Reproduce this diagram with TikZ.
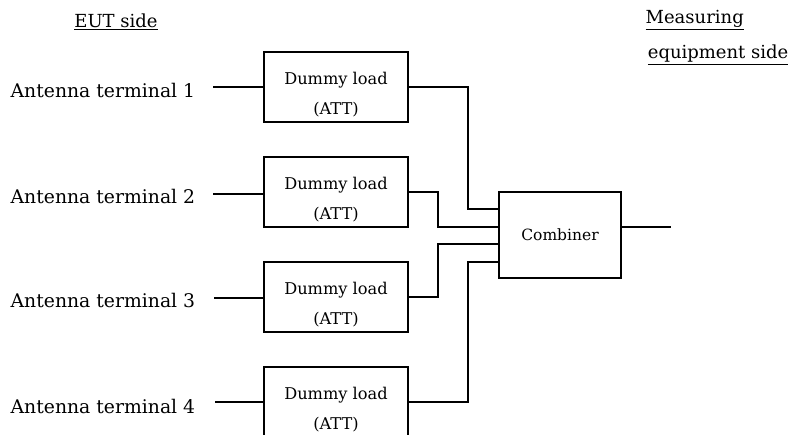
\documentclass[tikz,border=0pt]{standalone}
\usepackage{fontspec}
\setmainfont{DejaVu Serif}
\begin{document}
\begin{tikzpicture}[x=1pt,y=-1pt,line width=1.3pt,
  box/.style={draw,inner sep=0pt,minimum width=144pt,minimum height=70pt},
  lbl/.style={inner sep=0pt,font=\fontsize{18.8}{22}\selectfont},
  hdr/.style={inner sep=0pt,font=\fontsize{18}{22}\selectfont},
  small/.style={inner sep=0pt,font=\fontsize{16.2}{19}\selectfont}]
\useasboundingbox (0,0) rectangle (792,434);
% terminals
\node[lbl,anchor=west] (t1) at (10,90) {Antenna terminal 1};
\node[lbl,anchor=west] (t2) at (10,196) {Antenna terminal 2};
\node[lbl,anchor=west] (t3) at (10,300) {Antenna terminal 3};
\node[lbl,anchor=west] (t4) at (10,406) {Antenna terminal 4};
% headers
\node[hdr] (h1) at (116,22) {\underline{EUT side}};
\node[hdr,anchor=west] (h2) at (645,20) {\underline{Measuring}};
\node[hdr,anchor=east] (h3) at (789,55) {\underline{equipment side}};
% dummy loads
\foreach \i/\yt in {1/52,2/157,3/262,4/367}{
  \node[box] (d\i) at (336,\yt+35) {};
  \node[small] (dl\i) at (336,\yt+28) {Dummy load};
  \node[small] (da\i) at (336,\yt+58) {(ATT)};
}
\coordinate (a1) at (213,87); \coordinate (a2) at (213,194);
\coordinate (a3) at (214,298); \coordinate (a4) at (215,402);
% combiner
\node[box,minimum width=122pt,minimum height=86pt,font=\fontsize{15.5}{18}\selectfont] (comb) at (560,235) {Combiner};
\coordinate (out) at (671,227);
\draw (a1) -- (d1.west |- a1);
\draw (a2) -- (d2.west |- a2);
\draw (a3) -- (d3.west |- a3);
\draw (a4) -- (d4.west |- a4);
\draw (d1.east |- 0,87) -| (468,209) -- (comb.west |- 0,209);
\draw (d2.east |- 0,192) -| (438,227) -- (comb.west |- 0,227);
\draw (d3.east |- 0,297) -| (438,244) -- (comb.west |- 0,244);
\draw (d4.east |- 0,402) -| (468,262) -- (comb.west |- 0,262);
\draw (comb.east |- out) -- (out);
\end{tikzpicture}
\end{document}
